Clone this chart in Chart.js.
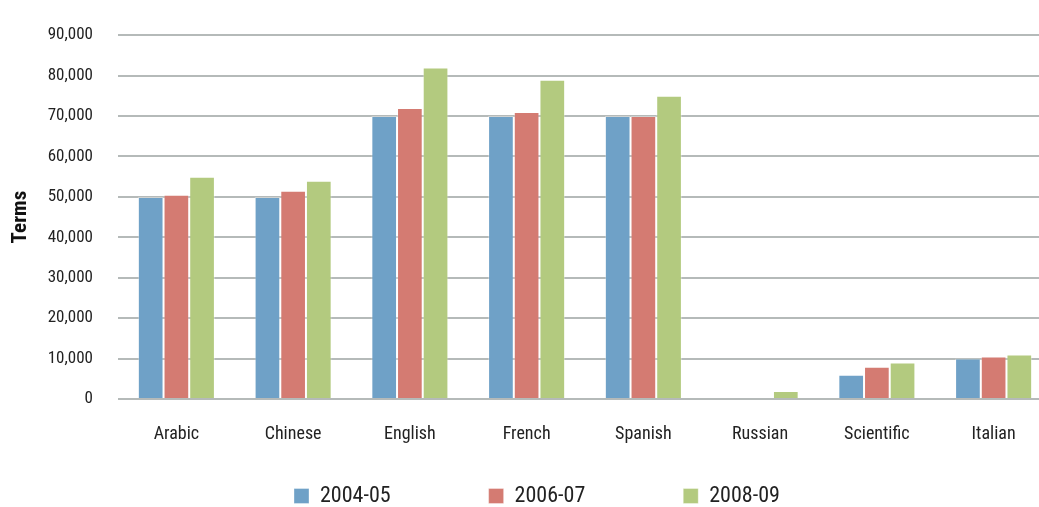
<!DOCTYPE html>
<html>
<head>
<meta charset="utf-8">
<script src="https://cdn.jsdelivr.net/npm/chart.js@4/dist/chart.umd.min.js"></script>
<style>
  body { margin: 0; background: #fff; overflow: hidden; }
  /* the original is cut off on the right, so the chart is a bit wider than the window */
  #wrap { width: 1052px; height: 507px; }
</style>
</head>
<body>
<div id="wrap"><canvas id="myChart" width="1052" height="507"></canvas></div>
<script>
// values
var languages = ["Arabic", "Chinese", "English", "French", "Spanish", "Russian", "Scientific", "Italian"];
var terms0405 = [50000, 50000, 70000, 70000, 70000, 0, 6000, 10000];
var terms0607 = [50500, 51500, 72000, 71000, 70000, 0, 8000, 10500];
var terms0809 = [55000, 54000, 82000, 79000, 75000, 2000, 9000, 11000];
var yTicks = [0, 10000, 20000, 30000, 40000, 50000, 60000, 70000, 80000, 90000];

var fontFamily = "'Roboto Condensed', 'Liberation Sans Narrow', sans-serif";
var legendGap = 98;   // horizontal gap between legend items

function makeSet(label, data, color) {
  return {
    label: label,
    data: data,
    backgroundColor: color,
    borderColor: "rgba(255,255,255,0.35)",
    borderWidth: 1,
    barPercentage: 1,
    categoryPercentage: 0.66
  };
}

// legend padding is used both across and down: keep the wide gap across only,
// and put the row near the bottom edge like the original (it is cut off there)
var legendSpacing = {
  id: "legendSpacing",
  beforeLayout: function (chart) {
    var lg = chart.legend;
    if (lg && !lg._patched) {
      var fit = lg.fit;
      lg.fit = function () { fit.call(this); this.height = 40; };
      lg._patched = true;
    }
  },
  afterLayout: function (chart) {
    var lg = chart.legend;
    if (lg) {
      lg.top = 485 - legendGap;
      var startX = (lg.left + legendGap + lg.right - lg.lineWidths[0]) / 2;
      var dx = 294 - startX;
      lg.left += dx;
      lg.right += dx;
    }
  }
};

new Chart(document.getElementById("myChart"), {
  type: "bar",
  data: {
    labels: languages,
    datasets: [
      makeSet("2004-05", terms0405, "#6fa1c7"),
      makeSet("2006-07", terms0607, "#d47b72"),
      makeSet("2008-09", terms0809, "#b3ca7f")
    ]
  },
  plugins: [legendSpacing],
  options: {
    responsive: false,
    animation: false,
    layout: { padding: { left: 8, right: 0, top: 30, bottom: 0 } },
    plugins: {
      tooltip: { enabled: false },
      legend: {
        position: "bottom",
        labels: {
          boxWidth: 15,
          boxHeight: 15,
          padding: legendGap,
          color: "#222",
          font: { family: fontFamily, size: 22 }
        }
      }
    },
    scales: {
      x: {
        grid: { display: false, drawTicks: false },
        border: { display: false },
        ticks: { color: "#222", padding: 25, font: { family: fontFamily, size: 18 } },
        afterFit: function (axis) { axis.height = 68; }
      },
      y: {
        min: 0,
        max: 90000,
        afterBuildTicks: function (axis) {
          axis.ticks = yTicks.map(function (v) { return { value: v }; });
        },
        afterFit: function (axis) { axis.width = 110; },
        grid: { color: "#b5bab9", lineWidth: 2, drawTicks: false },
        border: { display: false },
        ticks: {
          color: "#222",
          padding: 25,
          font: { family: fontFamily, size: 17 },
          callback: function (v) { return v.toLocaleString("en-US"); }
        },
        title: {
          display: true,
          text: "Terms",
          color: "#111",
          padding: { top: 0, bottom: 0 },
          font: { family: fontFamily, size: 21, weight: "bold" }
        }
      }
    }
  }
});
</script>
</body>
</html>
